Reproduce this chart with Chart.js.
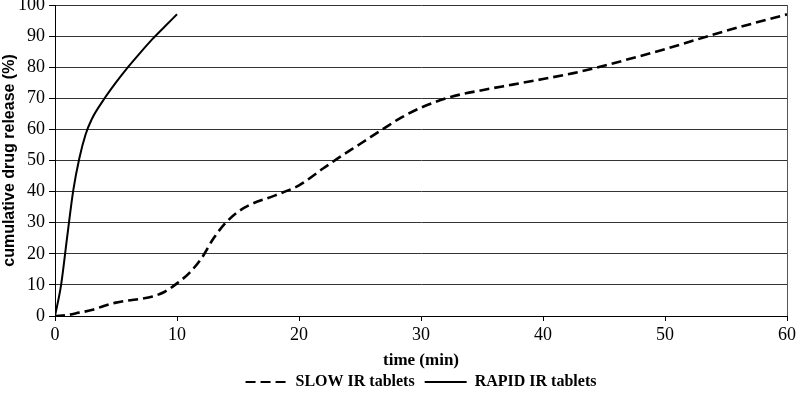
<!DOCTYPE html>
<html>
<head>
<meta charset="utf-8">
<script src="https://cdn.jsdelivr.net/npm/chart.js@4"></script>
<style>
  html, body { margin: 0; padding: 0; background: #fff; }
  #wrap { width: 799px; height: 393px; }
</style>
</head>
<body>
<div id="wrap"><canvas id="release"></canvas></div>
<script>
// time (min) / cumulative release (%)
const slowTime = [0, 1, 2, 3, 4, 5, 6, 7, 8, 9, 10, 11, 12, 13, 14, 15, 16, 18, 20, 22, 23.3, 25, 27, 28.2, 30, 32.5, 35, 37.5, 40, 42.5, 45, 50, 55, 60];
const slowRelease = [0, 0.3, 1.1, 1.9, 3.2, 4.3, 5, 5.5, 6.3, 7.8, 10.5, 13.8, 18.5, 25, 30, 33.5, 35.8, 38.7, 42, 47.5, 51, 55.3, 60.4, 63.4, 67, 70.5, 72.6, 74.4, 76.2, 78.1, 80.5, 85.8, 91.7, 97];

const rapidTime = [0, 0.5, 1, 1.5, 2, 2.5, 3, 4, 5, 6, 7, 8, 9, 10];
const rapidRelease = [0, 10, 25.5, 40.5, 50.8, 58.3, 63.2, 69.6, 75.1, 80.1, 84.7, 89.1, 93.1, 97];

const xTicks = [0, 10, 20, 30, 40, 50, 60];
const yTicks = [0, 10, 20, 30, 40, 50, 60, 70, 80, 90, 100];

const serif = "'Liberation Serif', 'Times New Roman', serif";
const sans = "'Liberation Sans', Arial, sans-serif";

const toPoints = (xs, ys) => xs.map((x, i) => ({ x: x, y: ys[i] }));

// keep the legend centred under the plot area, not the whole canvas
const legendUnderPlot = {
  id: 'legendUnderPlot',
  afterLayout(chart) {
    if (chart.legend) {
      chart.legend.left = chart.chartArea.left;
      chart.legend.right = chart.chartArea.right;
    }
  },
};

new Chart(document.getElementById('release'), {
  type: 'line',
  data: {
    datasets: [
      {
        label: 'SLOW IR tablets',
        data: toPoints(slowTime, slowRelease),
        borderColor: '#000',
        backgroundColor: '#000',
        borderWidth: 2.6,
        borderDash: [10, 5],
        pointRadius: 0,
        cubicInterpolationMode: 'monotone',
        fill: false,
      },
      {
        label: 'RAPID IR tablets',
        data: toPoints(rapidTime, rapidRelease),
        borderColor: '#000',
        backgroundColor: '#000',
        borderWidth: 2,
        pointRadius: 0,
        cubicInterpolationMode: 'monotone',
        fill: false,
      },
    ],
  },
  plugins: [legendUnderPlot],
  options: {
    responsive: true,
    maintainAspectRatio: false,
    animation: false,
    layout: { padding: { top: 5, bottom: -7, left: 0, right: 0 } },
    scales: {
      x: {
        type: 'linear',
        min: 0,
        max: 60,
        afterBuildTicks: s => { s.ticks = xTicks.map(v => ({ value: v })); },
        afterFit: s => { s.height = 48; },
        ticks: { color: '#000', padding: 3, font: { family: serif, size: 18 } },
        grid: {
          drawOnChartArea: true,
          color: c => (c.tick && c.tick.value === 60 ? '#555' : 'rgba(0,0,0,0)'),
          tickColor: '#000',
          tickLength: 5,
        },
        border: { color: '#000', width: 1 },
        title: {
          display: true,
          text: 'time (min)',
          color: '#000',
          font: { family: serif, size: 17, weight: 'bold' },
          padding: { top: 0, bottom: -7 },
        },
      },
      y: {
        min: 0,
        max: 100,
        afterBuildTicks: s => { s.ticks = yTicks.map(v => ({ value: v })); },
        afterFit: s => { s.width = 55; s.paddingTop = 0; s.paddingBottom = 0; },
        ticks: { color: '#000', padding: 4, font: { family: serif, size: 18 } },
        grid: { color: '#333', tickColor: '#000', tickLength: 6 },
        border: { color: '#000', width: 1 },
        title: {
          display: true,
          text: 'cumulative drug release (%)',
          color: '#000',
          font: { family: sans, size: 16, weight: 'bold' },
          padding: { top: 0, bottom: 0 },
        },
      },
    },
    plugins: {
      legend: {
        position: 'bottom',
        labels: {
          color: '#000',
          usePointStyle: true,
          pointStyle: 'line',
          pointStyleWidth: 42,
          boxWidth: 42,
          padding: 10,
          font: { family: serif, size: 16, weight: 'bold' },
          generateLabels: chart =>
            Chart.defaults.plugins.legend.labels.generateLabels(chart).map(item => {
              const ds = chart.data.datasets[item.datasetIndex];
              item.lineDash = ds.borderDash || [];
              item.lineWidth = 2;
              item.strokeStyle = '#000';
              return item;
            }),
        },
      },
      title: { display: false },
      tooltip: { enabled: false },
    },
  },
});
</script>
</body>
</html>
